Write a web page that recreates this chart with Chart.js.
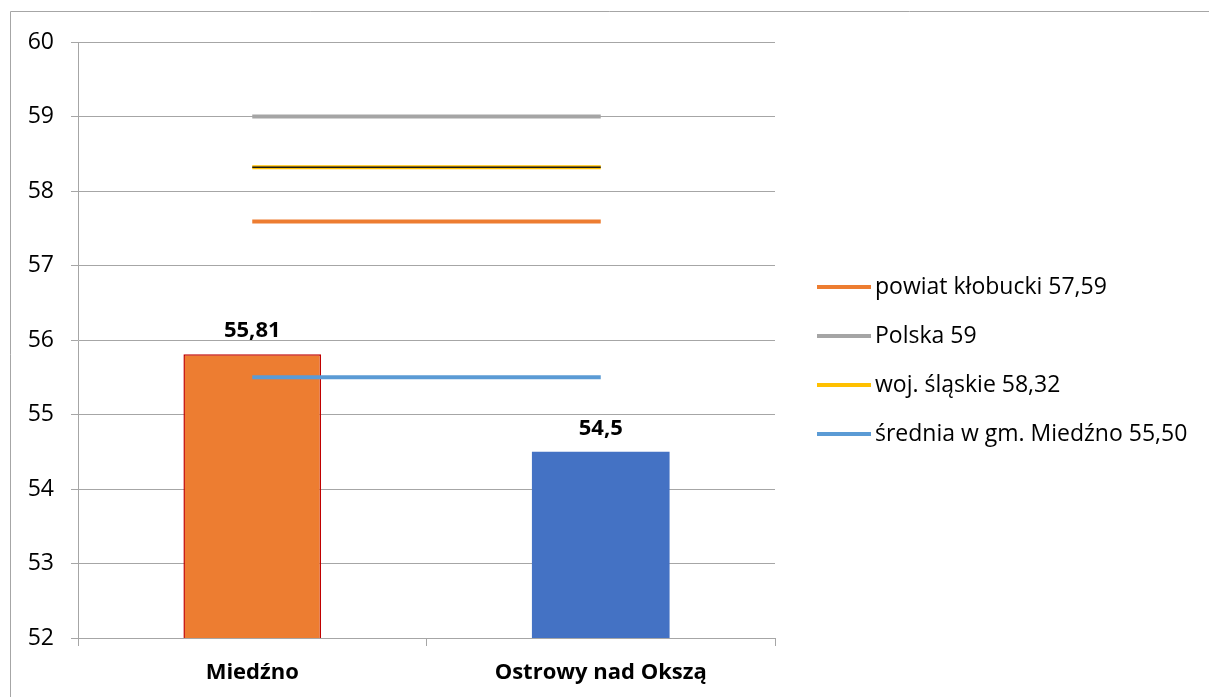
<!DOCTYPE html>
<html lang="pl">
  <head>
    <meta charset="utf-8">
    <title>Miedźno / Ostrowy nad Okszą</title>
    <style>
      html, body {
        margin: 0;
        padding: 0;
        background: #fff;
      }
      #wrapper {
        width: 1209px;
        height: 697px;
        position: relative;
      }
    </style>
  </head>
  <body>
    <div id="wrapper">
      <canvas id="canvas"></canvas>
    </div>

    <script src="https://cdn.jsdelivr.net/npm/chart.js"></script>
    <script>
      // categories and bar values
      const categories = ['Miedźno', 'Ostrowy nad Okszą'];
      const barValues = [55.81, 54.5];
      const barLabels = ['55,81', '54,5'];
      const barColors = ['#ED7D31', '#4472C4'];

      // reference lines
      const refNames = ['powiat kłobucki 57,59', 'Polska 59', 'woj. śląskie 58,32', 'średnia w gm. Miedźno 55,50'];
      const refValues = [57.59, 59, 58.32, 55.50];
      const refColors = ['#ED7D31', '#A5A5A5', '#FFC000', '#5B9BD5'];

      const yTicks = [52, 53, 54, 55, 56, 57, 58, 59, 60];

      const font = "'Open Sans', 'Liberation Sans', sans-serif";

      let datasets = [];
      for (let i = 0; i < refValues.length; i++) {
        datasets.push({
          type: 'line',
          label: refNames[i],
          data: categories.map(() => refValues[i]),
          borderColor: refColors[i],
          backgroundColor: refColors[i],
          borderWidth: 4,
          pointRadius: 0,
          fill: false,
          order: 1
        });
      }
      // thin dark core of the yellow line
      datasets.push({
        type: 'line',
        label: '_core',
        data: categories.map(() => refValues[2]),
        borderColor: '#1a1a1a',
        borderWidth: 1.5,
        pointRadius: 0,
        fill: false,
        order: 0
      });
      datasets.push({
        type: 'bar',
        label: '_bars',
        data: barValues,
        backgroundColor: barColors,
        borderColor: ['#C00000', '#4472C4'],
        borderWidth: [1.5, 0],
        barPercentage: 0.395,
        categoryPercentage: 1,
        order: 2
      });

      const frame = {
        id: 'frame',
        beforeDraw(chart) {
          const ctx = chart.ctx;
          ctx.save();
          ctx.strokeStyle = '#A6A6A6';
          ctx.lineWidth = 1;
          ctx.beginPath();
          ctx.moveTo(10.5, 700);
          ctx.lineTo(10.5, 11.5);
          ctx.lineTo(1209, 11.5);
          ctx.stroke();
          ctx.restore();
        }
      };

      const extras = {
        id: 'extras',
        afterDraw(chart) {
          const ctx = chart.ctx;
          ctx.save();
          // value labels above bars
          const meta = chart.getDatasetMeta(chart.data.datasets.length - 1);
          ctx.fillStyle = '#000';
          ctx.font = 'bold 22px ' + font;
          ctx.textAlign = 'center';
          ctx.textBaseline = 'alphabetic';
          meta.data.forEach((bar, i) => {
            ctx.fillText(barLabels[i], bar.x, bar.y - 17);
          });
          // legend
          ctx.font = '23px ' + font;
          ctx.textAlign = 'left';
          ctx.textBaseline = 'middle';
          for (let i = 0; i < refNames.length; i++) {
            const y = 287 + i * 49;
            ctx.strokeStyle = refColors[i];
            ctx.lineWidth = 4;
            ctx.beginPath();
            ctx.moveTo(817, y);
            ctx.lineTo(871, y);
            ctx.stroke();
            ctx.fillStyle = '#000';
            ctx.fillText(refNames[i], 875, y);
          }
          ctx.restore();
        }
      };

      const options = {
        responsive: true,
        maintainAspectRatio: false,
        animation: false,
        layout: { padding: { left: 0, top: 42, right: 434, bottom: 0 } },
        plugins: {
          legend: { display: false },
          tooltip: { enabled: false }
        },
        scales: {
          x: {
            type: 'category',
            labels: categories,
            offset: true,
            grid: {
              offset: true,
              drawOnChartArea: false,
              drawTicks: true,
              tickLength: 8,
              color: '#A6A6A6'
            },
            border: { display: true, color: '#A6A6A6' },
            ticks: {
              color: '#000',
              font: { family: font, size: 22, weight: 'bold' },
              padding: 14
            },
            afterFit(scale) { scale.height = 59; }
          },
          y: {
            min: 52,
            max: 60,
            afterBuildTicks(scale) { scale.ticks = yTicks.map(v => ({ value: v })); },
            grid: {
              color: '#A6A6A6',
              tickLength: 7
            },
            border: { display: true, color: '#A6A6A6' },
            ticks: {
              color: '#000',
              font: { family: font, size: 23 },
              padding: 17
            },
            afterFit(scale) { scale.width = 78; }
          }
        }
      };

      new Chart(document.getElementById('canvas'), {
        type: 'bar',
        data: { labels: categories, datasets: datasets },
        options: options,
        plugins: [frame, extras]
      });
    </script>
  </body>
</html>
